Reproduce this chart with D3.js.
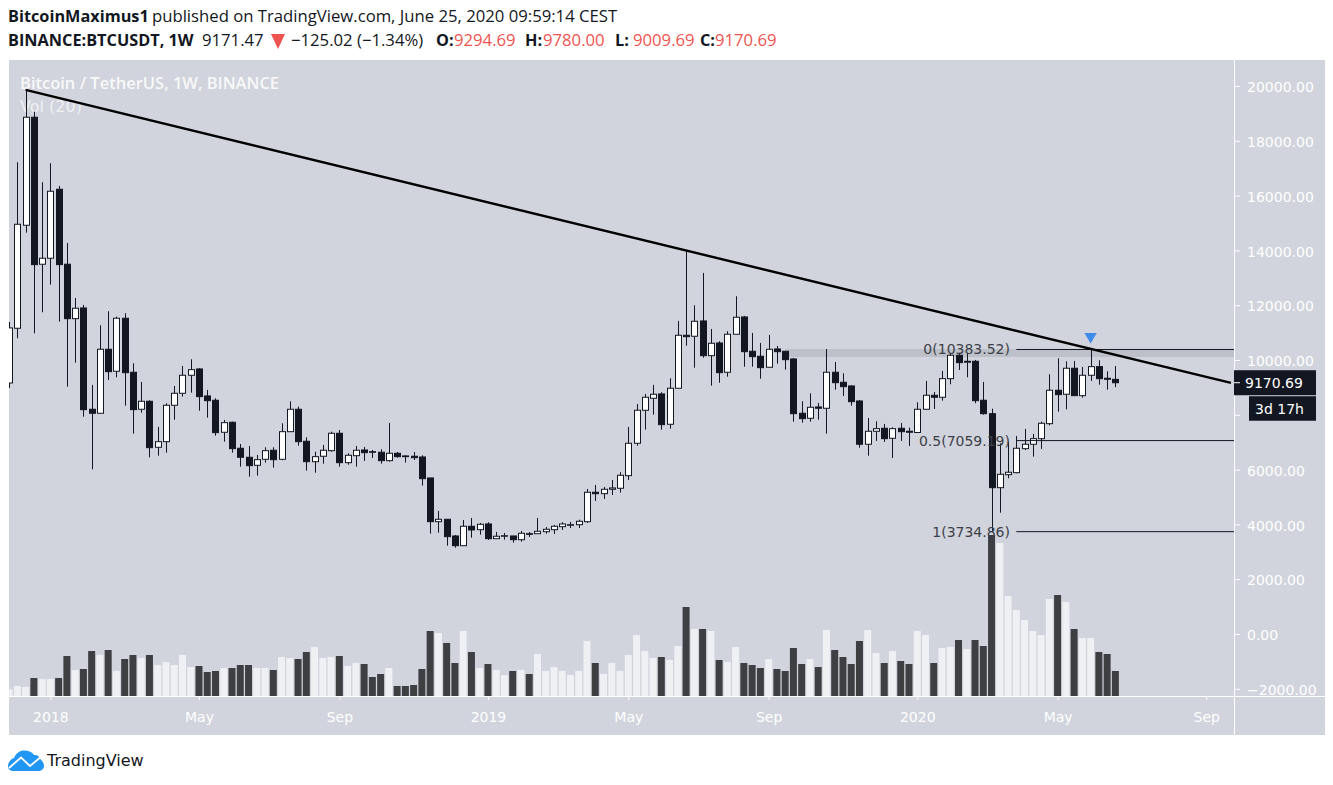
<!DOCTYPE html>
<html>
<head>
<meta charset="utf-8">
<script src="https://cdn.jsdelivr.net/npm/d3@7"></script>
<style>
html, body { margin: 0; padding: 0; background: #fff; }
svg { display: block; }
text { font-family: "DejaVu Sans", sans-serif; }
.head { font-family: "Open Sans", sans-serif; font-size: 16.7px; fill: #131722; }
.head.b { font-weight: 700; font-size: 16.3px; }
.head.red { fill: #ef5350; }
.title { font-family: "Open Sans", sans-serif; font-size: 16.5px; font-weight: 600; fill: #fff; }
.axis text { fill: #fff; font-size: 14px; font-family: "DejaVu Sans", sans-serif; }
.axis line { stroke: #fff; }
.axis path { display: none; }
.fib { font-size: 14px; fill: #3c3f47; text-anchor: end; dominant-baseline: central; }
</style>
</head>
<body>
<div id="app"></div>
<script>
// weekly candles, index 0 = week of 4 Dec 2017
var opens = [9162,11159,14918,18860,13495,13714,16232,13495,11509,11900,8202,8056,10392,9589,11524,9553,8202,8494,6815,7019,8348,8786,9443,9673,8688,8531,7363,7728,6779,6450,6158,6377,6706,6377,7384,8202,7034,6289,6487,6691,7326,6253,6508,6716,6654,6633,6326,6596,6498,6487,6461,5695,4099,4187,3578,3223,3932,3807,4016,3479,3567,3578,3442,3661,3661,3734,3807,3917,3968,3990,4099,5173,5121,5282,5319,5778,6961,8166,8604,8761,7655,8969,10903,10867,11425,10158,10622,9553,10940,11571,10319,10137,9735,10403,10319,10038,8056,7874,8286,8239,9553,9188,9053,8505,6925,7399,7509,7144,7509,7399,7355,8202,8713,8640,9319,10173,9918,9954,8531,8041,5340,5815,5888,6764,6925,7129,7676,8896,8750,9699,8698,9443,9757,9334,9294.69];
var highs = [11389,17218,19857,19064,16488,17181,16353,14272,12264,12009,9089,11268,11779,11582,11706,9881,9199,8531,7556,8421,9053,9783,10027,9699,8907,8604,7812,7749,6936,6863,6534,6815,6815,7691,8494,8297,7180,6654,6899,7384,7446,6596,6863,6826,6716,6742,7702,6644,6523,6644,6523,5695,4490,4187,3614,4162,4235,4052,4078,3724,3687,3578,3760,3724,4235,3906,3979,4078,4089,4172,5293,5439,5366,5622,5903,7556,8396,8761,9089,8823,9334,11425,13980,11998,13177,11133,10684,11049,12327,11608,10987,10622,10914,10513,10330,10075,8494,8786,8432,10403,9929,9516,9078,8531,7885,7764,7666,7545,7702,7531,8458,9235,8834,9600,10257,10257,10257,10002,9199,8224,6961,7019,7228,7483,7301,7749,9480,10064,9954,9965,9746,10380,9991,9589,9780];
var lows = [8979,10794,14648,10976,11743,12750,11399,9027,9903,7932,6012,8049,9272,9370,8333,7311,8078,6450,6508,6618,7822,8662,8808,8151,7895,7238,7019,6618,6107,5742,5778,6253,6070,6341,7384,6873,5961,5888,6216,6654,6107,6180,6107,6315,6424,6216,6289,6435,6253,6352,5413,3661,3698,3223,3150,3223,3515,3625,3432,3479,3442,3333,3369,3541,3661,3661,3651,3797,3870,3870,4052,4855,4928,5074,5158,5622,6873,7457,8005,7457,7494,8969,10523,9720,10085,9063,9173,9392,10940,9757,9757,9319,9735,9866,9647,7749,7713,7749,7822,7311,8917,8688,8333,6800,6508,7045,7009,6424,7045,6863,7348,8202,8213,8516,9115,9637,9370,8421,8005,3735,4428,5684,5866,6716,6472,6753,7618,8114,8202,8698,8625,9235,9100,8917,9009.69];
var closes = [11170,14954,18860,13480,13714,16159,13480,11509,11889,8187,8056,10392,9574,11524,9538,8187,8494,6800,7019,8348,8786,9443,9647,8662,8516,7348,7713,6764,6450,6143,6362,6691,6362,7384,8202,7019,6289,6472,6706,7326,6253,6523,6706,6618,6633,6326,6596,6472,6472,6435,5669,4099,4187,3552,3223,3932,3797,4005,3479,3567,3588,3442,3676,3639,3749,3822,3932,4016,3990,4114,5173,5121,5282,5330,5793,6961,8166,8640,8750,7640,8969,10903,10852,11414,10158,10611,9538,10940,11560,10304,10122,9720,10392,10304,10012,8041,7859,8275,8239,9553,9173,9027,8479,6925,7399,7494,7129,7494,7384,7363,8202,8713,8640,9319,10173,9903,9954,8516,8041,5340,5830,5903,6779,6925,7129,7691,8896,8735,9699,8698,9443,9757,9319,9297,9170.69];
// volume in arbitrary units, the picture has no volume scale
var volumes = [67,100,90,180,170,170,180,400,260,270,450,410,460,250,370,410,380,410,310,340,310,410,290,300,240,250,280,280,310,310,280,280,260,390,380,370,440,490,380,390,400,300,330,320,190,220,280,100,100,110,270,650,630,530,330,650,440,280,320,260,210,250,260,220,420,250,290,250,210,250,550,330,220,330,250,410,610,450,380,390,360,500,890,670,670,650,360,340,490,330,310,280,370,270,250,480,320,370,290,660,460,390,320,550,660,430,330,450,350,320,650,610,330,480,490,560,470,560,500,1610,1530,1000,860,760,650,610,970,1010,940,670,580,580,440,420,250];

var priceTicks = [-2000,0,2000,4000,6000,8000,10000,12000,14000,16000,18000,20000];
var timeTicks = [5,23,40,58,75,92,110,127,145];
var timeLabels = ["2018","May","Sep","2019","May","Sep","2020","May","Sep"];

var fibLevels = [0,0.5,1];
var fibPrices = [10383.52,7059.19,3734.86];
var resistanceZone = [10110,10400];
var trendWeeks = [2,148];
var trendPrices = [19857,9163];
var lastClose = 9170.69;

var W = 1333, H = 785;
var left = 9, right = 1234, top_ = 60, plotBottom = 696, bottom = 735, edge = 1325;

var x = d3.scaleLinear().domain([0,145]).range([9.1,1206.2]);
var y = d3.scaleLinear().domain([0,20000]).range([634,86]);
var yVol = d3.scaleLinear().domain([0,1000]).range([696,596]);

var svg = d3.select("#app").append("svg").attr("width",W).attr("height",H);

svg.append("defs").append("clipPath").attr("id","plot")
    .append("rect").attr("x",left).attr("y",top_).attr("width",right-left).attr("height",plotBottom-top_);

svg.append("rect").attr("x",left).attr("y",top_).attr("width",edge-left).attr("height",bottom-top_).attr("fill","#d1d4dc");

// header lines
function headText(cls,px,py,s){
    return svg.append("text").attr("class","head "+cls).attr("x",px).attr("y",py).text(s);
}
headText("b",8,22,"BitcoinMaximus1");
headText("",152,22,"published on TradingView.com, June 25, 2020 09:59:14 CEST");
headText("b",8,46,"BINANCE:BTCUSDT, 1W");
headText("",202,46,"9171.47");
headText("",291,46,"\u2212125.02 (\u22121.34%)");
var ohlcLabels = ["O:","H:","L:","C:"];
var ohlcValues = ["9294.69","9780.00","9009.69","9170.69"];
var ohlcX = [436,525,615,700];
ohlcLabels.forEach(function(l,i){
    headText("b",ohlcX[i],46,l);
    headText("red",ohlcX[i]+(i==3?15:18),46,ohlcValues[i]);
});
svg.append("path").attr("d","M271,34L285,34L278,49Z").attr("fill","#ef5350");

// watermark titles
svg.append("text").attr("class","title").attr("x",20).attr("y",89).attr("opacity",0.85)
    .text("Bitcoin / TetherUS, 1W, BINANCE");
svg.append("text").attr("x",20).attr("y",112).attr("fill","#fff").attr("font-size",16).attr("opacity",0.65).text("Vol (20)");

var plot = svg.append("g").attr("clip-path","url(#plot)");

// volume
plot.selectAll("rect.vol").data(volumes).enter().append("rect")
    .attr("class","vol")
    .attr("x",function(d,i){ return x(i)-3.5; })
    .attr("width",7)
    .attr("y",function(d){ return yVol(d); })
    .attr("height",function(d){ return yVol(0)-yVol(d); })
    .attr("fill",function(d,i){ return closes[i]<opens[i] ? "#3e3f43" : "#eef0f3"; });

// resistance zone
var zoneStart = 94;
plot.append("rect").attr("x",x(zoneStart)).attr("width",right-x(zoneStart))
    .attr("y",y(resistanceZone[1])).attr("height",y(resistanceZone[0])-y(resistanceZone[1]))
    .attr("fill","#787b86").attr("opacity",0.22);

// wicks and bodies
plot.selectAll("line.wick").data(opens).enter().append("line")
    .attr("class","wick")
    .attr("x1",function(d,i){ return Math.round(x(i))+0.5; })
    .attr("x2",function(d,i){ return Math.round(x(i))+0.5; })
    .attr("y1",function(d,i){ return y(highs[i]); })
    .attr("y2",function(d,i){ return y(lows[i]); })
    .attr("stroke","#131722").attr("stroke-width",1);

plot.selectAll("rect.body").data(opens).enter().append("rect")
    .attr("class","body")
    .attr("x",function(d,i){ return Math.round(x(i))-2.5; })
    .attr("width",6)
    .attr("y",function(d,i){ return y(Math.max(d,closes[i])); })
    .attr("height",function(d,i){ return Math.max(0.5,Math.abs(y(d)-y(closes[i]))); })
    .attr("fill",function(d,i){ return closes[i]<d ? "#131722" : "#ffffff"; })
    .attr("stroke","#131722").attr("stroke-width",1);

// fibonacci levels
var fibStart = 122;
fibPrices.forEach(function(p,i){
    svg.append("line").attr("x1",x(fibStart)).attr("x2",right)
        .attr("y1",y(p)).attr("y2",y(p)).attr("stroke","#131722").attr("stroke-width",1);
    svg.append("text").attr("class","fib").attr("x",1010).attr("y",y(p))
        .text(fibLevels[i]+"("+p.toFixed(2)+")");
});

// trend line
svg.append("line")
    .attr("x1",x(trendWeeks[0])).attr("y1",y(trendPrices[0]))
    .attr("x2",x(trendWeeks[1])).attr("y2",y(trendPrices[1]))
    .attr("stroke","#000").attr("stroke-width",2.4);

// blue marker over week 131
svg.append("path")
    .attr("transform","translate("+x(131)+",336.5) rotate(180)")
    .attr("d",d3.symbol().type(d3.symbolTriangle).size(65))
    .attr("fill","#3d8bea");

// axes, the 8000 label sits behind the countdown box in the reference
var yFmt = d3.format(".2f");
var yAxis = d3.axisRight(y).tickValues(priceTicks).tickSize(6).tickPadding(7)
    .tickFormat(function(d){ return d==8000 ? "" : yFmt(d); });
svg.append("g").attr("class","axis").attr("transform","translate("+right+",0)").call(yAxis)
    .selectAll("text").attr("dy","0.4em");

var xAxis = d3.axisBottom(x).tickValues(timeTicks).tickSize(4).tickPadding(12)
    .tickFormat(function(d,i){ return timeLabels[i]; });
svg.append("g").attr("class","axis").attr("transform","translate(0,"+plotBottom+")").call(xAxis);

svg.append("line").attr("x1",left).attr("x2",edge).attr("y1",plotBottom+0.5).attr("y2",plotBottom+0.5).attr("stroke","#fff");
svg.append("line").attr("x1",right+0.5).attr("x2",right+0.5).attr("y1",top_).attr("y2",bottom).attr("stroke","#fff");

// last price tag and countdown
var tagY = y(lastClose);
svg.append("rect").attr("x",right).attr("y",tagY-12.5).attr("width",82).attr("height",25).attr("fill","#131722");
svg.append("line").attr("x1",right).attr("x2",right+6).attr("y1",tagY).attr("y2",tagY).attr("stroke","#fff");
svg.append("text").attr("x",1245).attr("y",tagY).attr("dominant-baseline","central")
    .attr("fill","#fff").attr("font-size",14).text(lastClose.toFixed(2));
svg.append("rect").attr("x",1249).attr("y",tagY+13.5).attr("width",67).attr("height",24.5).attr("fill","#131722");
svg.append("text").attr("x",1255).attr("y",tagY+26).attr("dominant-baseline","central")
    .attr("fill","#fff").attr("font-size",14).text("3d 17h");

// logo
var logo = svg.append("g");
logo.append("path").attr("fill","#2196f3")
    .attr("d","M8,766C8,762 11,759 14,758C16,753 20,750.5 24,750.5C29,750.5 32,752 34,755C38,755 40,757 41,760C43,761.5 44,764 44,766C44,769.5 41,771 38,771L14,771C10,771 8,769.5 8,766Z");
logo.append("path").attr("fill","none").attr("stroke","#fff").attr("stroke-width",1.8)
    .attr("d","M9,768L21,757.5L30,766L42,756");
svg.append("text").attr("x",47).attr("y",760).attr("dominant-baseline","central")
    .attr("font-size",16).attr("fill","#131722").text("TradingView");
</script>
</body>
</html>
